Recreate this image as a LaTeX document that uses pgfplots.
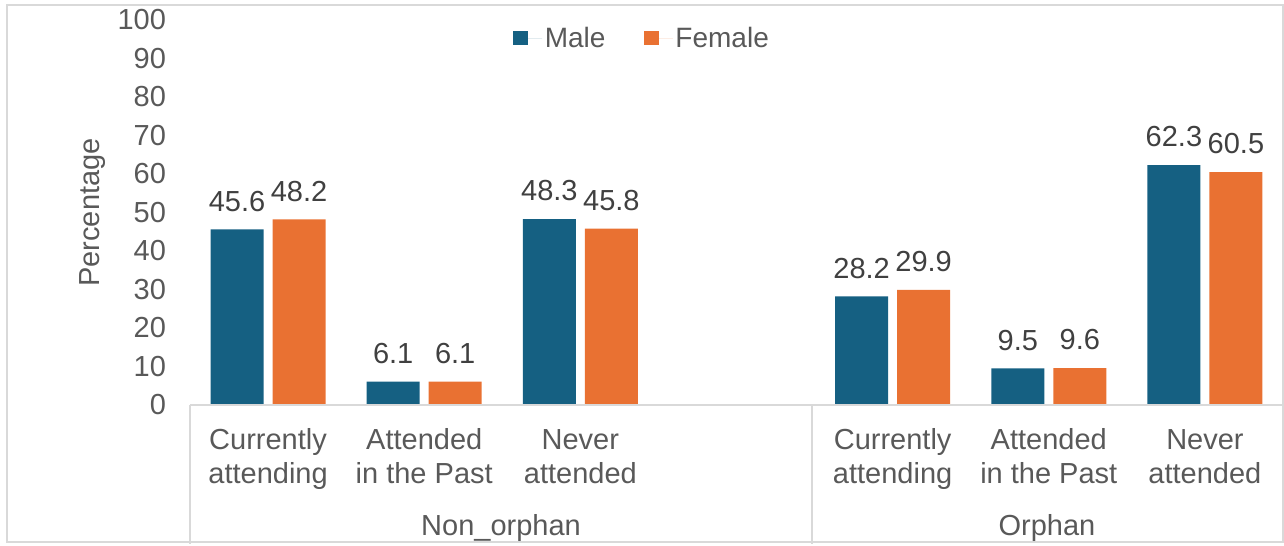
\documentclass[border=0pt]{standalone}
\usepackage{fontspec}
\setmainfont{Liberation Sans}
\usepackage{pgfplots}
\pgfplotsset{compat=1.18}
\definecolor{male}{HTML}{156082}
\definecolor{female}{HTML}{E97132}
\definecolor{txt}{HTML}{595959}
\definecolor{dtxt}{HTML}{404040}
\definecolor{lgrid}{HTML}{D9D9D9}
\newcommand{\fs}{\fontsize{21.75}{25.5}\selectfont}
\newcommand{\fl}{\fontsize{21}{24}\selectfont}
\begin{document}
\begin{tikzpicture}
\begin{scope}[x=0.75pt,y=0.75pt]
\useasboundingbox (-190,405) rectangle (1094,-139);
\draw[lgrid, line width=1pt] (-183,400) rectangle (1093,-137);
\end{scope}
\begin{axis}[
  at={(0,0)}, anchor=south west, scale only axis,
  width=819.75pt, height=288.75pt,
  xmin=-0.5, xmax=6.5, ymin=0, ymax=100,
  ybar=6.75pt, bar width=39.75pt,
  axis line style={draw=none},
  major tick length=0pt,
  xtick={0,1,2,4,5,6},
  xticklabels={{\strut Currently\\attending},{\strut Attended\\in the Past},{\strut Never\\attended},{\strut Currently\\attending},{\strut Attended\\in the Past},{\strut Never\\attended}},
  xticklabel style={align=center, font=\fs, text=txt, yshift=-12pt},
  ytick={0,10,...,100},
  yticklabel style={font=\fs, text=txt, xshift=-14.5pt},
  /pgf/number format/assume math mode=true,
  ylabel={Percentage},
  every axis y label/.style={at={(axis description cs:0,0.5)}, rotate=90, anchor=center, yshift=73pt, font=\fs, text=txt},
  nodes near coords,
  every node near coord/.append style={font=\fs, text=dtxt, yshift=10pt, /pgf/number format/fixed, /pgf/number format/fixed zerofill, /pgf/number format/precision=1},
  legend style={at={(0.414,0.953)}, anchor=center, draw=none, fill=none, legend columns=2, font=\fl, text=txt,
    /tikz/every even column/.append style={column sep=27pt}},
  legend image code/.code={\fill[#1, draw=none] (0pt,-5.5pt) rectangle (11pt,5.5pt); \path (0pt,0pt) -- (21.5pt,0pt);},
  clip=false,
]
\addplot[fill=male, draw=none] coordinates {(0,45.6) (1,6.1) (2,48.3) (4,28.2) (5,9.5) (6,62.3)};
\addplot[fill=female, draw=none] coordinates {(0,48.2) (1,6.1) (2,45.8) (4,29.9) (5,9.6) (6,60.5)};
\legend{Male, Female}
\end{axis}
\begin{scope}[x=0.75pt,y=0.75pt]
\draw[lgrid, line width=1pt] (0,0) -- (1093,0);
\draw[lgrid, line width=1pt] (0,0) -- (0,-139);
\draw[lgrid, line width=1pt] (622,0) -- (622,-139);
\node[anchor=base, font=\fs, text=txt] at (311,-130) {Non\_orphan};
\node[anchor=base, font=\fs, text=txt] at (857,-130) {Orphan};
\end{scope}
\end{tikzpicture}
\end{document}
